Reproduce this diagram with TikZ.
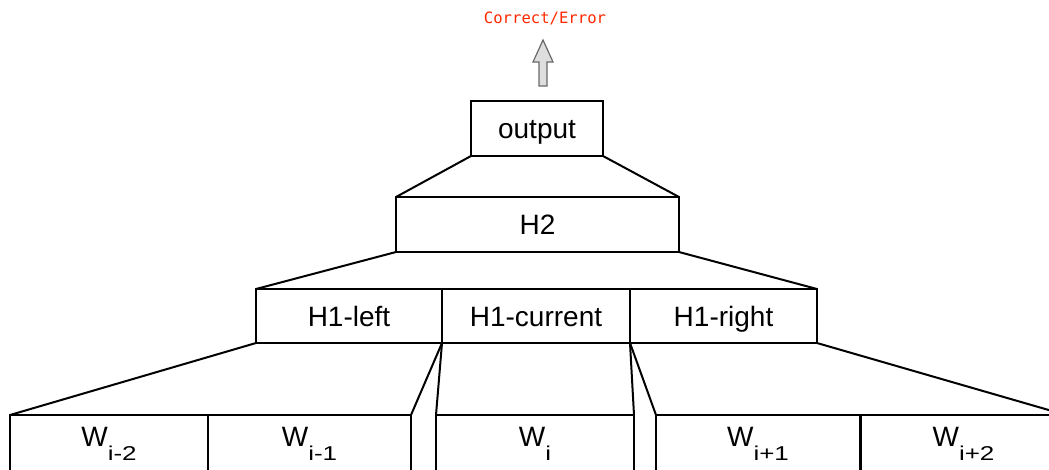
\documentclass[tikz,border=0pt]{standalone}
\usepackage{fontspec}
\setmainfont{Liberation Sans}
\newfontfamily\monofont{DejaVu Sans Mono}
\definecolor{errred}{RGB}{255,40,0}
\definecolor{arrowfill}{RGB}{222,222,222}
\definecolor{arrowline}{RGB}{105,105,105}
% word with a lowered, widened index, e.g. W_{i-2}
\newcommand{\wsub}[1]{W\raisebox{-10.5pt}{\scalebox{1.3}[1]{\fontsize{15}{15}\selectfont #1}}}
\begin{document}
\begin{tikzpicture}[x=0.75pt,y=-0.75pt,
  box/.style={draw, line width=1.5pt, inner sep=0pt, outer sep=0pt,
              font=\fontsize{21}{21}\selectfont},
  lbox/.style={box, text height=15pt, text depth=0pt},
  topbox/.style={lbox, minimum height=41.25pt},
  hbox/.style={lbox, minimum height=40.5pt},
  wbox/.style={box, minimum height=43.5pt},
  link/.style={line width=1.5pt},
  blockarrow/.style={draw=arrowline, fill=arrowfill, line width=0.9pt, line join=miter},
  result/.style={text=errred, font=\monofont\fontsize{11.7}{12}\selectfont}]
\useasboundingbox (0,0) rectangle (1049,469);
\clip (0,0) rectangle (1049,469);

% result label and block arrow
\node[result] (res) at (545,18) {Correct/Error};
\draw[blockarrow] (539,86) -- (539,62) -- (533,62) -- (543,40) -- (553,62)
  -- (547,62) -- (547,86) -- cycle;

% upper layers
\node[topbox, minimum width=99pt] (out) at (537,128.5) {output};
\node[topbox, minimum width=212.25pt] (h2) at (537.5,224.5) {H2};

\node[hbox, minimum width=139.5pt] (h1l) at (349,316) {H1-left};
\node[hbox, minimum width=141pt] (h1c) at (536,316) {H1-current};
\node[hbox, minimum width=140.25pt] (h1r) at (723.5,316) {H1-right};

% word window
\node[wbox, minimum width=148.5pt] (w1) at (109,444) {\wsub{i-2}};
\node[wbox, minimum width=152.25pt] (w2) at (309.5,444) {\wsub{i-1}};
\node[wbox, minimum width=148.5pt] (w3) at (535,444) {\wsub{i}};
\node[wbox, minimum width=153pt] (w4) at (758,444) {\wsub{i+1}};
\node[wbox, minimum width=153.75pt] (w5) at (963.5,444) {\wsub{i+2}};

% fan-in connectors
\draw[link] (out.south west) -- (h2.north west);
\draw[link] (out.south east) -- (h2.north east);
\draw[link] (h2.south west) -- (h1l.north west);
\draw[link] (h2.south east) -- (h1r.north east);
\draw[link] (h1l.south west) -- (w1.north west);
\draw[link] (h1l.south east) -- (w2.north east);
\draw[link] (h1c.south west) -- (w3.north west);
\draw[link] (h1c.south east) -- (w3.north east);
\draw[link] (h1r.south west) -- (w4.north west);
\draw[link] (h1r.south east) -- (w5.north east);
\end{tikzpicture}
\end{document}
